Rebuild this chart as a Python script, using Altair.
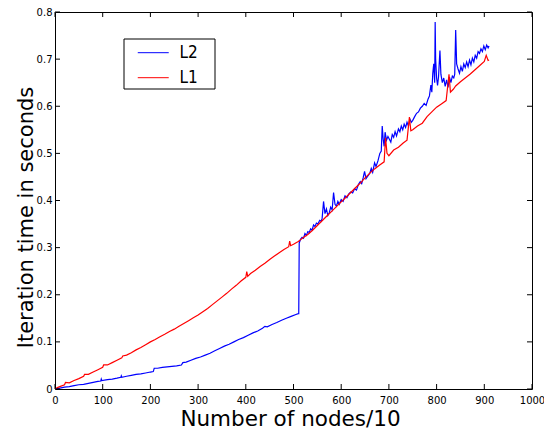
import altair as alt
import pandas as pd

series_names = ["L2", "L1"]
series_colors = ["#0000ff", "#ff0000"]

# L2 (blue)
l2_x = [0, 10, 20, 30, 40, 50, 60, 70, 80, 90, 96, 97, 98, 110, 120, 130, 138, 139, 140, 150,
        160, 170, 180, 190, 200, 206, 208, 215, 225, 235, 245, 255, 265, 268, 275, 285, 295, 305,
        315, 325, 335, 345, 355, 365, 375, 385, 395, 405, 415, 425, 435, 440, 445, 455, 465, 475,
        485, 495, 505, 510, 511, 512, 515, 518, 521, 524, 527, 530, 533, 536, 539, 542, 545, 548,
        551, 555, 558, 560, 563, 566, 569, 572, 575, 578, 581, 584, 587, 590, 593, 596, 600, 604,
        608, 612, 616, 620, 624, 628, 632, 636, 640, 643, 646, 649, 652, 656, 660, 663, 666, 670,
        673, 677, 681, 684, 686, 688, 690, 692, 695, 698, 701, 704, 707, 710, 713, 716, 720, 723,
        726, 729, 732, 735, 738, 741, 744, 747, 750, 754, 758, 762, 766, 770, 774, 778, 782, 785,
        788, 790, 792, 794, 796, 797, 798, 800, 802, 804, 806, 807, 809, 812, 815, 818, 821, 824,
        827, 830, 833, 836, 838, 840, 842, 845, 848, 851, 854, 857, 860, 863, 866, 869, 872, 875,
        878, 881, 884, 887, 890, 893, 896, 899, 902, 905, 908, 910]
l2_y = [0.000, 0.002, 0.004, 0.005, 0.007, 0.009, 0.010, 0.012, 0.014, 0.016, 0.017, 0.021, 0.018,
        0.020, 0.021, 0.023, 0.025, 0.028, 0.025, 0.027, 0.029, 0.031, 0.032, 0.034, 0.036, 0.037,
        0.044, 0.044, 0.046, 0.047, 0.048, 0.049, 0.051, 0.056, 0.057, 0.061, 0.065, 0.068, 0.072,
        0.076, 0.081, 0.086, 0.091, 0.095, 0.100, 0.105, 0.109, 0.114, 0.119, 0.123, 0.129, 0.133,
        0.132, 0.137, 0.141, 0.146, 0.150, 0.154, 0.158, 0.160, 0.160, 0.310, 0.318, 0.322, 0.320,
        0.330, 0.326, 0.334, 0.332, 0.340, 0.337, 0.348, 0.345, 0.352, 0.350, 0.358, 0.356, 0.362,
        0.398, 0.372, 0.382, 0.368, 0.374, 0.386, 0.380, 0.417, 0.392, 0.388, 0.398, 0.392, 0.402,
        0.398, 0.410, 0.406, 0.414, 0.418, 0.416, 0.425, 0.422, 0.434, 0.440, 0.436, 0.448, 0.462,
        0.446, 0.452, 0.458, 0.468, 0.460, 0.480, 0.472, 0.484, 0.500, 0.505, 0.558, 0.530, 0.515,
        0.545, 0.528, 0.536, 0.530, 0.524, 0.540, 0.534, 0.546, 0.537, 0.552, 0.546, 0.558, 0.550,
        0.562, 0.555, 0.566, 0.558, 0.573, 0.566, 0.570, 0.578, 0.585, 0.588, 0.596, 0.600, 0.606,
        0.602, 0.615, 0.622, 0.645, 0.630, 0.670, 0.690, 0.650, 0.779, 0.700, 0.660, 0.644, 0.662,
        0.700, 0.718, 0.668, 0.650, 0.660, 0.642, 0.656, 0.640, 0.662, 0.650, 0.664, 0.660, 0.668,
        0.762, 0.690, 0.679, 0.670, 0.684, 0.674, 0.690, 0.682, 0.694, 0.684, 0.698, 0.688, 0.702,
        0.694, 0.708, 0.702, 0.716, 0.712, 0.722, 0.716, 0.728, 0.720, 0.730, 0.724, 0.728]

# L1 (red)
l1_x = [0, 5, 10, 20, 22, 30, 40, 50, 60, 62, 70, 80, 90, 100, 102, 110, 120, 130, 140, 142, 150,
        160, 170, 180, 190, 200, 210, 220, 230, 240, 250, 260, 270, 280, 290, 300, 310, 320, 330,
        340, 350, 360, 370, 380, 390, 400, 402, 404, 410, 420, 430, 440, 450, 460, 470, 480, 490,
        492, 494, 500, 510, 515, 520, 530, 540, 550, 560, 570, 580, 590, 600, 610, 620, 630, 640,
        650, 660, 670, 680, 690, 693, 696, 700, 710, 720, 730, 738, 743, 746, 750, 760, 770, 780,
        790, 800, 810, 820, 826, 829, 835, 840, 850, 860, 870, 880, 890, 900, 904, 908, 910]
l1_y = [0.000, 0.003, 0.005, 0.009, 0.014, 0.013, 0.018, 0.022, 0.027, 0.031, 0.031, 0.036, 0.041,
        0.046, 0.051, 0.051, 0.056, 0.061, 0.066, 0.070, 0.072, 0.077, 0.083, 0.088, 0.094, 0.100,
        0.105, 0.111, 0.116, 0.122, 0.127, 0.133, 0.139, 0.145, 0.151, 0.157, 0.164, 0.171, 0.179,
        0.187, 0.195, 0.203, 0.212, 0.220, 0.229, 0.237, 0.249, 0.239, 0.245, 0.252, 0.260, 0.267,
        0.275, 0.282, 0.289, 0.296, 0.302, 0.314, 0.304, 0.307, 0.313, 0.317, 0.321, 0.328, 0.337,
        0.347, 0.357, 0.367, 0.377, 0.387, 0.397, 0.407, 0.417, 0.427, 0.437, 0.448, 0.458, 0.467,
        0.475, 0.482, 0.533, 0.500, 0.495, 0.507, 0.513, 0.522, 0.528, 0.577, 0.548, 0.550, 0.558,
        0.564, 0.578, 0.588, 0.598, 0.605, 0.612, 0.668, 0.630, 0.636, 0.643, 0.652, 0.660, 0.668,
        0.677, 0.686, 0.695, 0.708, 0.697, 0.698]

x_ticks = [0, 100, 200, 300, 400, 500, 600, 700, 800, 900, 1000]
y_ticks = [0, 0.1, 0.2, 0.3, 0.4, 0.5, 0.6, 0.7, 0.8]

W, H = 477, 377
FONT = "DejaVu Sans"

l2_df = pd.DataFrame({"x": l2_x, "y": l2_y, "series": series_names[0]})
l1_df = pd.DataFrame({"x": l1_x, "y": l1_y, "series": series_names[1]})
xt_df = pd.DataFrame({"x": x_ticks})
yt_df = pd.DataFrame({"y": y_ticks})

xscale = alt.Scale(domain=[0, 1000], nice=False, zero=False)
yscale = alt.Scale(domain=[0, 0.8], nice=False, zero=False)
cscale = alt.Scale(domain=series_names, range=series_colors)

x_axis = alt.Axis(values=x_ticks, format="d", title="Number of nodes/10",
                  titleFontSize=21.5, titleFont=FONT, titleFontWeight="normal",
                  titleX=235, titleY=36, titleAlign="center", titleBaseline="alphabetic",
                  titleColor="black", labelPadding=6, labelFlush=False, labelOverlap=False,
                  labelFont=FONT, labelFontSize=10, labelColor="black",
                  ticks=False, domain=False, grid=False)
y_axis = alt.Axis(values=y_ticks, format="~g", title="Iteration time in seconds",
                  titleFontSize=21, titleFont=FONT, titleFontWeight="normal",
                  titleAngle=270, titleX=-22.5, titleY=205, titleAlign="center",
                  titleBaseline="alphabetic", titleColor="black",
                  labelPadding=3, labelFlush=False, labelOverlap=False,
                  labelFont=FONT, labelFontSize=10, labelColor="black",
                  ticks=False, domain=False, grid=False)

legend = alt.Legend(orient="none", legendX=89.75, legendY=32.2, title=None,
                    symbolType="M-2,0H2", symbolSize=240, symbolStrokeWidth=1,
                    labelFontSize=17, labelFont="DejaVu Sans Condensed", labelColor="black",
                    labelOffset=17.75, rowPadding=7, padding=0)

color_enc = alt.Color("series:N", scale=cscale, legend=legend)
X = alt.X("x:Q", scale=xscale, axis=x_axis)
Y = alt.Y("y:Q", scale=yscale, axis=y_axis)

blue = alt.Chart(l2_df).mark_line(strokeWidth=1.2, clip=True).encode(x=X, y=Y, color=color_enc)
red = alt.Chart(l1_df).mark_line(strokeWidth=1.2, clip=True).encode(x=X, y=Y, color=color_enc)

box = alt.Chart(pd.DataFrame({"a": [0]})).mark_rect(
    fill="white", stroke="black", strokeWidth=1
).encode(x=alt.value(69), x2=alt.value(160), y=alt.value(27), y2=alt.value(77))

tick_len = 5
bottom_ticks = alt.Chart(xt_df).mark_rule(color="black", strokeWidth=1).encode(
    x=X, y=alt.value(H - tick_len), y2=alt.value(H))
top_ticks = alt.Chart(xt_df).mark_rule(color="black", strokeWidth=1).encode(
    x=X, y=alt.value(0), y2=alt.value(tick_len))
left_ticks = alt.Chart(yt_df).mark_rule(color="black", strokeWidth=1).encode(
    y=Y, x=alt.value(0), x2=alt.value(tick_len))
right_ticks = alt.Chart(yt_df).mark_rule(color="black", strokeWidth=1).encode(
    y=Y, x=alt.value(W - tick_len), x2=alt.value(W))

chart = alt.layer(
    blue, red, box, bottom_ticks, top_ticks, left_ticks, right_ticks
).properties(
    width=W, height=H,
    autosize=alt.AutoSizeParams(type="none"),
    padding={"left": 47, "top": 4, "right": 12, "bottom": 40},
    background="white",
).configure_view(
    stroke="black", strokeWidth=1
)

chart.save("out.html", embed_options={"renderer": "svg", "actions": False})
